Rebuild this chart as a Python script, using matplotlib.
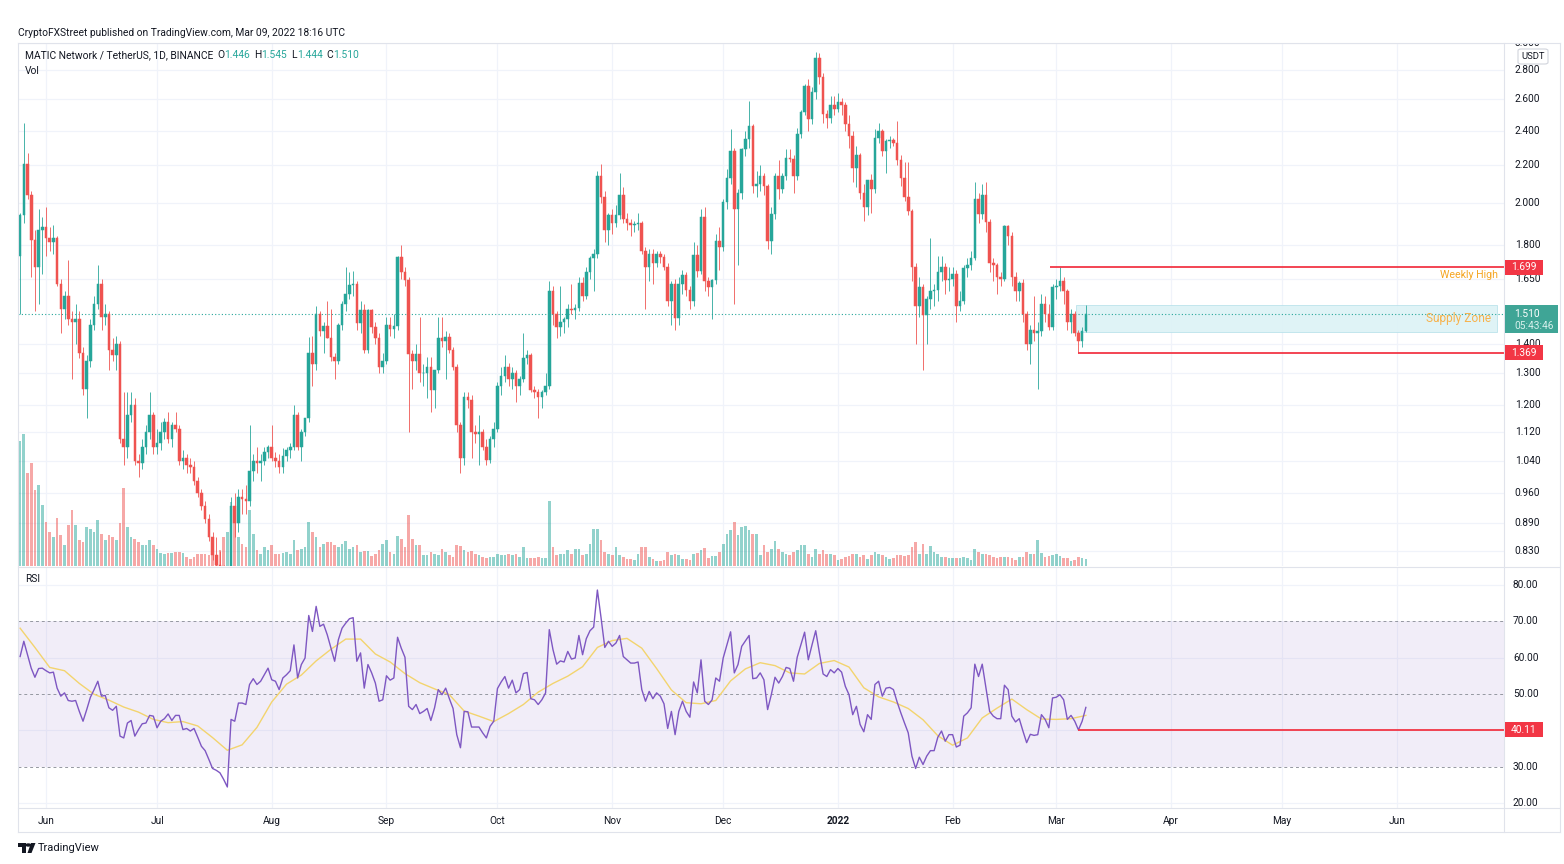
import numpy as np
import pandas as pd
import matplotlib
matplotlib.use("Agg")
import matplotlib.pyplot as plt
import matplotlib.dates as mdates
import matplotlib.transforms as mtransforms
from matplotlib.patches import Rectangle, FancyBboxPatch, Polygon, Circle
from matplotlib.lines import Line2D

plt.rcParams['font.family'] = ['Roboto', 'DejaVu Sans']

# ------------------------------------------------------------------ data
start_date = "2021-05-25"   # MATIC/USDT daily candles, Binance

opens = [
 1.75,1.94,2.21,2.04,1.82,1.70,1.87,1.88,1.83,1.81,
 1.83,1.63,1.53,1.58,1.49,1.48,1.49,1.37,1.25,1.34,
 1.47,1.55,1.63,1.50,1.51,1.38,1.36,1.40,1.10,1.08,
 1.17,1.20,1.04,1.035,1.08,1.12,1.17,1.08,1.09,1.12,
 1.15,1.10,1.14,1.13,1.04,1.05,1.03,1.025,0.99,0.96,
 0.93,0.90,0.86,0.82,0.80,0.78,0.73,0.75,0.93,0.89,
 0.95,0.945,0.94,1.015,1.04,1.035,1.04,1.065,1.08,1.05,
 1.04,1.025,1.055,1.07,1.08,1.17,1.08,1.12,1.16,1.37,
 1.33,1.51,1.445,1.465,1.42,1.355,1.34,1.47,1.55,1.59,
 1.625,1.63,1.475,1.525,1.38,1.525,1.46,1.42,1.32,1.34,
 1.47,1.455,1.465,1.745,1.68,1.645,1.365,1.34,1.365,1.30,
 1.30,1.32,1.245,1.31,1.42,1.41,1.425,1.38,1.32,1.14,
 1.05,1.225,1.215,1.12,1.115,1.12,1.08,1.045,1.10,1.13,
 1.26,1.29,1.32,1.28,1.30,1.26,1.28,1.35,1.36,1.245,
 1.24,1.225,1.24,1.26,1.60,1.51,1.46,1.48,1.49,1.53,
 1.525,1.535,1.635,1.58,1.68,1.74,1.76,2.14,2.03,1.87,
 1.94,1.90,1.94,2.04,1.92,1.90,1.89,1.895,1.90,1.77,
 1.70,1.76,1.72,1.76,1.745,1.70,1.56,1.63,1.495,1.63,
 1.665,1.605,1.56,1.755,1.685,1.93,1.64,1.615,1.645,1.815,
 1.79,2.005,2.13,2.28,1.97,2.05,2.29,2.35,2.43,2.09,
 2.10,2.14,2.09,1.815,1.945,2.14,2.07,2.14,2.24,2.235,
 2.14,2.38,2.52,2.69,2.475,2.65,2.885,2.75,2.505,2.48,
 2.565,2.54,2.58,2.56,2.44,2.37,2.185,2.26,2.05,1.98,
 2.12,2.07,2.36,2.40,2.28,2.34,2.345,2.33,2.23,2.13,
 2.03,1.96,1.70,1.54,1.615,1.505,1.57,1.60,1.605,1.68,
 1.70,1.645,1.65,1.67,1.54,1.56,1.695,1.71,1.74,2.02,
 1.945,2.04,1.905,1.72,1.71,1.66,1.65,1.885,1.84,1.66,
 1.60,1.635,1.51,1.40,1.45,1.44,1.445,1.55,1.51,1.46,
 1.615,1.62,1.64,1.60,1.48,1.51,1.44,1.41,1.446]

highs = [
 1.95,2.45,2.27,2.06,1.87,1.97,1.93,1.98,1.88,1.89,
 1.84,1.65,1.60,1.73,1.52,1.55,1.52,1.39,1.36,1.49,
 1.58,1.71,1.65,1.55,1.52,1.42,1.43,1.41,1.24,1.24,
 1.24,1.22,1.06,1.10,1.14,1.24,1.18,1.13,1.15,1.16,
 1.18,1.15,1.18,1.14,1.07,1.06,1.05,1.04,1.00,0.97,
 0.94,0.91,0.87,0.86,0.83,0.80,0.77,0.95,0.96,0.97,
 0.97,0.98,1.14,1.06,1.08,1.06,1.08,1.085,1.14,1.065,
 1.06,1.075,1.08,1.09,1.20,1.18,1.13,1.16,1.425,1.43,
 1.54,1.52,1.48,1.56,1.53,1.37,1.475,1.56,1.70,1.68,
 1.685,1.64,1.56,1.55,1.53,1.53,1.48,1.44,1.37,1.50,
 1.50,1.51,1.75,1.80,1.70,1.66,1.38,1.40,1.50,1.33,
 1.355,1.355,1.31,1.50,1.50,1.445,1.44,1.39,1.33,1.15,
 1.24,1.24,1.23,1.14,1.17,1.13,1.10,1.11,1.15,1.27,
 1.32,1.36,1.335,1.32,1.31,1.29,1.44,1.38,1.37,1.26,
 1.25,1.245,1.30,1.64,1.62,1.52,1.62,1.50,1.55,1.63,
 1.55,1.66,1.66,1.70,1.75,1.78,2.17,2.21,2.06,1.95,
 1.97,1.99,2.16,2.08,1.95,1.92,1.91,1.95,1.91,1.79,
 1.78,1.78,1.77,1.77,1.76,1.72,1.64,1.65,1.66,1.69,
 1.68,1.62,1.81,1.80,1.97,1.98,1.66,1.65,1.85,1.88,
 2.02,2.18,2.41,2.30,2.07,2.30,2.40,2.59,2.44,2.17,
 2.20,2.16,2.10,1.98,2.16,2.23,2.16,2.29,2.29,2.26,
 2.42,2.53,2.70,2.74,2.68,2.93,2.92,2.78,2.53,2.62,
 2.62,2.64,2.61,2.58,2.50,2.40,2.31,2.27,2.10,2.12,
 2.15,2.41,2.45,2.41,2.35,2.37,2.36,2.46,2.26,2.22,
 2.22,1.97,1.72,1.66,1.63,1.58,1.83,1.63,1.75,1.75,
 1.72,1.70,1.70,1.69,1.60,1.71,1.74,1.77,2.11,2.05,
 2.10,2.11,1.92,1.74,1.72,1.68,1.89,1.89,1.86,1.68,
 1.64,1.65,1.52,1.47,1.58,1.48,1.59,1.58,1.55,1.63,
 1.65,1.699,1.66,1.61,1.53,1.52,1.45,1.46,1.545]

lows = [
 1.51,1.90,2.02,1.66,1.52,1.55,1.67,1.75,1.77,1.76,
 1.62,1.44,1.49,1.47,1.28,1.40,1.35,1.23,1.16,1.32,
 1.45,1.53,1.45,1.47,1.31,1.34,1.31,1.09,1.03,1.05,
 1.15,1.03,1.00,1.02,1.06,1.10,1.06,1.06,1.07,1.10,
 1.09,1.08,1.12,1.03,1.02,1.01,1.01,0.98,0.95,0.92,
 0.89,0.85,0.81,0.78,0.76,0.71,0.67,0.74,0.86,0.87,
 0.91,0.91,0.93,0.99,1.01,0.99,1.03,1.05,1.04,1.025,
 1.01,1.01,1.04,1.05,1.07,1.07,1.04,1.11,1.15,1.26,
 1.31,1.43,1.37,1.42,1.34,1.28,1.33,1.45,1.52,1.57,
 1.58,1.45,1.44,1.37,1.37,1.44,1.40,1.30,1.30,1.33,
 1.43,1.42,1.45,1.65,1.62,1.12,1.25,1.31,1.27,1.26,
 1.22,1.18,1.19,1.30,1.39,1.28,1.37,1.31,1.12,1.01,
 1.03,1.19,1.05,1.09,1.03,1.07,1.03,1.035,1.08,1.12,
 1.23,1.27,1.26,1.25,1.21,1.23,1.27,1.33,1.24,1.22,
 1.16,1.19,1.23,1.25,1.47,1.42,1.43,1.44,1.46,1.51,
 1.49,1.52,1.56,1.57,1.65,1.60,1.74,2.00,1.81,1.80,
 1.85,1.88,1.92,1.90,1.87,1.84,1.86,1.87,1.76,1.53,
 1.64,1.63,1.70,1.72,1.69,1.54,1.47,1.45,1.47,1.59,
 1.58,1.53,1.54,1.66,1.67,1.60,1.58,1.49,1.63,1.69,
 1.77,1.97,2.10,1.55,1.71,2.02,2.25,2.30,2.05,2.03,
 2.06,2.04,1.78,1.76,1.92,2.02,2.05,2.12,2.22,2.05,
 2.12,2.36,2.50,2.40,2.44,2.60,2.70,2.45,2.42,2.45,
 2.50,2.52,2.50,2.40,2.30,2.11,2.08,2.02,1.91,1.94,
 1.95,2.05,2.33,2.25,2.16,2.30,2.31,2.20,2.09,2.01,
 1.94,1.64,1.40,1.50,1.31,1.40,1.53,1.54,1.56,1.64,
 1.59,1.60,1.62,1.48,1.52,1.55,1.66,1.69,1.73,1.90,
 1.92,1.86,1.68,1.64,1.59,1.62,1.64,1.80,1.62,1.56,
 1.56,1.48,1.38,1.33,1.41,1.25,1.43,1.48,1.45,1.45,
 1.57,1.60,1.55,1.45,1.44,1.43,1.369,1.39,1.444]

closes = [
 1.94,2.21,2.04,1.82,1.70,1.87,1.88,1.83,1.81,1.83,
 1.63,1.53,1.58,1.49,1.48,1.49,1.37,1.25,1.34,1.47,
 1.55,1.63,1.50,1.51,1.38,1.36,1.40,1.10,1.08,1.17,
 1.20,1.04,1.035,1.08,1.12,1.17,1.08,1.09,1.12,1.15,
 1.10,1.14,1.13,1.04,1.05,1.03,1.025,0.99,0.96,0.93,
 0.90,0.86,0.82,0.80,0.78,0.73,0.75,0.93,0.89,0.95,
 0.945,0.94,1.015,1.04,1.035,1.04,1.065,1.08,1.05,1.04,
 1.025,1.055,1.07,1.08,1.17,1.08,1.12,1.16,1.37,1.33,
 1.51,1.445,1.465,1.42,1.355,1.34,1.47,1.55,1.59,1.625,
 1.63,1.475,1.525,1.38,1.525,1.46,1.42,1.32,1.34,1.47,
 1.455,1.465,1.745,1.68,1.645,1.365,1.34,1.365,1.30,1.30,
 1.32,1.245,1.31,1.42,1.41,1.425,1.38,1.32,1.14,1.05,
 1.225,1.215,1.12,1.115,1.12,1.08,1.045,1.10,1.13,1.26,
 1.29,1.32,1.28,1.30,1.26,1.28,1.35,1.36,1.245,1.24,
 1.225,1.24,1.26,1.60,1.51,1.46,1.48,1.49,1.53,1.525,
 1.535,1.635,1.58,1.68,1.74,1.76,2.14,2.03,1.87,1.94,
 1.90,1.94,2.04,1.92,1.90,1.89,1.895,1.90,1.77,1.70,
 1.76,1.72,1.76,1.745,1.70,1.56,1.63,1.495,1.63,1.665,
 1.605,1.56,1.755,1.685,1.93,1.64,1.615,1.645,1.815,1.79,
 2.005,2.13,2.28,1.97,2.05,2.29,2.35,2.43,2.09,2.10,
 2.14,2.09,1.815,1.945,2.14,2.07,2.14,2.24,2.235,2.14,
 2.38,2.52,2.69,2.475,2.65,2.885,2.75,2.505,2.48,2.565,
 2.54,2.58,2.56,2.44,2.37,2.185,2.26,2.05,1.98,2.12,
 2.07,2.36,2.40,2.28,2.34,2.345,2.33,2.23,2.13,2.03,
 1.96,1.70,1.54,1.615,1.505,1.57,1.60,1.605,1.68,1.70,
 1.645,1.65,1.67,1.54,1.56,1.695,1.71,1.74,2.02,1.945,
 2.04,1.905,1.72,1.71,1.66,1.65,1.885,1.84,1.66,1.60,
 1.635,1.51,1.40,1.45,1.44,1.445,1.55,1.51,1.46,1.615,
 1.62,1.64,1.60,1.48,1.51,1.44,1.41,1.446,1.510]

volumes = [  # millions
 624,658,464,514,379,405,303,219,169,143,
 236,152,101,202,278,202,126,118,194,185,
 169,228,160,126,152,143,126,211,388,194,
 143,135,118,101,101,126,101,84,62,59,
 64,62,67,67,62,42,34,42,56,56,
 59,51,59,51,76,143,169,320,211,143,
 110,93,278,160,76,59,93,76,101,59,
 56,62,67,59,126,79,84,93,219,169,
 143,93,110,118,118,101,93,110,123,84,
 93,101,67,72,72,46,59,76,110,126,
 67,59,147,135,93,253,135,101,101,51,
 51,67,59,51,84,67,51,42,101,98,
 79,67,71,56,51,42,39,42,42,59,
 51,51,56,51,56,42,93,39,39,39,
 42,37,37,325,93,51,59,59,76,59,
 84,84,51,59,106,185,185,126,67,59,
 51,93,51,42,34,34,30,56,93,93,
 42,34,25,25,29,67,51,56,51,34,
 34,29,56,62,76,89,39,46,46,67,
 110,157,180,219,152,191,199,180,157,160,
 51,101,67,84,123,84,67,59,51,67,
 76,101,105,59,42,84,59,76,59,56,
 51,29,34,42,46,59,59,42,51,34,
 51,67,59,51,42,34,39,51,51,46,
 51,93,118,59,106,59,96,67,56,42,
 42,37,37,37,37,42,39,30,84,67,
 56,59,51,42,37,42,42,42,39,30,
 42,42,67,56,56,126,62,42,46,51,
 56,46,37,39,25,29,42,37,34]

rsi = [
 60.3,64.5,60.8,57.1,54.6,57.0,57.1,56.4,55.8,56.0,
 51.6,49.4,50.3,48.2,48.0,48.2,45.2,42.5,45.7,49.1,
 51.2,53.5,49.4,49.6,46.2,45.5,46.6,38.4,37.9,42.0,
 42.7,38.4,40.2,41.8,42.0,44.1,43.9,40.7,42.5,43.2,
 44.5,42.7,44.1,44.1,40.2,40.5,39.8,40.5,38.1,35.6,
 34.4,32.0,29.5,29.0,28.3,26.5,24.4,43.0,42.5,47.5,
 47.5,47.1,52.6,54.2,52.6,53.5,55.3,57.1,53.9,53.5,
 51.2,54.4,55.3,56.4,63.5,54.4,58.1,59.9,71.6,67.2,
 74.1,68.6,69.2,66.3,62.6,59.0,64.9,68.1,69.5,70.7,
 71.0,59.0,61.3,51.6,58.1,55.8,53.0,48.0,48.4,55.0,
 53.8,54.4,65.6,62.6,60.1,46.6,45.7,47.1,44.6,45.2,
 46.0,42.7,46.2,51.2,49.8,51.6,48.7,46.0,38.8,35.2,
 45.2,45.1,40.9,40.9,40.9,39.3,37.9,41.1,42.5,51.5,
 53.3,54.8,51.6,53.8,50.3,51.2,55.6,55.9,48.7,48.4,
 47.1,48.4,50.3,67.7,62.2,58.2,59.1,58.8,61.7,59.6,
 59.9,66.1,60.8,65.2,67.4,68.4,78.6,70.9,62.8,64.5,
 63.1,64.0,66.1,60.3,59.4,58.5,58.5,58.8,51.2,48.0,
 50.7,48.7,50.3,49.4,47.3,40.5,45.2,38.8,45.2,48.0,
 45.2,43.6,53.3,50.3,59.4,48.0,47.1,48.4,54.4,53.5,
 59.9,63.5,67.1,55.8,58.1,63.1,64.6,66.1,54.2,54.4,
 55.8,53.9,45.7,49.8,54.6,53.0,54.8,57.3,57.0,53.5,
 60.1,63.5,67.0,59.4,63.5,67.4,61.3,55.5,54.8,56.7,
 55.8,57.0,56.0,52.1,49.8,44.3,46.6,41.6,39.6,44.3,
 43.0,52.6,53.5,49.4,51.6,51.8,51.2,47.8,44.8,42.0,
 39.3,32.9,29.5,32.6,30.6,32.9,34.4,34.4,38.1,39.8,
 37.0,38.8,38.8,35.4,35.9,43.9,44.8,46.2,58.2,54.8,
 58.2,51.6,45.2,43.9,43.2,43.2,52.4,51.2,43.9,42.3,
 43.2,39.8,36.6,38.9,38.6,38.8,44.3,43.0,40.7,48.9,
 49.1,49.8,48.4,43.0,44.1,42.5,40.11,42.5,46.3]

rsi_ma_step = 4   # RSI-based MA, read every 4th day
rsi_ma = [
 68.1,62.8,57.3,56.4,52.9,49.9,48.3,46.4,45.0,43.0,
 42.1,42.4,41.2,38.0,34.5,36.0,40.8,47.8,52.7,55.2,
 59.1,62.3,65.1,65.1,61.0,58.8,55.6,53.1,51.4,49.8,
 45.3,43.9,42.4,44.6,47.1,50.5,52.9,54.9,57.5,62.8,
 64.7,65.3,62.6,57.0,51.1,47.6,47.3,48.2,53.6,56.9,
 58.6,57.8,55.8,55.5,58.4,59.2,57.4,51.7,49.2,47.8,
 46.0,42.9,38.5,35.9,37.9,43.4,46.1,48.6,45.7,43.1,
 43.0,43.2,44.1]

price_ticks = [3.0, 2.8, 2.6, 2.4, 2.2, 2.0, 1.8, 1.65, 1.4, 1.3, 1.2,
               1.12, 1.04, 0.96, 0.89, 0.83]
rsi_ticks = [80, 70, 60, 50, 40, 30, 20]
month_labels = ["Jun", "Jul", "Aug", "Sep", "Oct", "Nov", "Dec", "2022",
                "Feb", "Mar", "Apr", "May", "Jun"]
month_starts = pd.date_range("2021-06-01", "2022-06-01", freq="MS")

weekly_high = 1.699
weekly_high_from = "2022-02-28"
support_low = 1.369
supply_zone = (1.444, 1.545)
zone_from = "2022-03-06"
level_from = "2022-03-07"
rsi_level = 40.11
countdown = "05:43:46"

# ------------------------------------------------------------------ figure
W, H = 1564, 864
fig = plt.figure(figsize=(W / 100, H / 100), dpi=100)
fig.patch.set_facecolor("white")


def fx(px):
    return px / W


def fy(py):
    return 1 - py / H


UP, DOWN = "#26a69a", "#ef5350"
RED = "#f23645"
TEXT = "#131722"
GRID = "#f0f3fa"
BORDER = "#e0e3eb"
ORANGE = "#f5a623"
FS = 7.3

LEFT, RPANE, REDGE = 18, 1504, 1560
TOP, PBOT, RTOP, RBOT, ABOT = 43, 565.5, 567.5, 808, 832

dates = pd.date_range(start_date, periods=len(closes), freq="D")
xs = mdates.date2num(dates)
o, hi, lo, c = map(np.array, (opens, highs, lows, closes))
vol = np.array(volumes)
up = c >= o
cols = np.where(up, UP, DOWN)

x_left = xs[0] - 0.57
x_right = xs[0] + 401.0

# ---------------- price pane
ax = fig.add_axes([fx(LEFT), fy(PBOT), fx(RPANE - LEFT), (PBOT - TOP) / H])
ax.set_yscale("log")
ax.set_axis_off()
ax.set_xlim(x_left, x_right)
ax.set_ylim(0.7992, 2.998)

for p in price_ticks:
    ax.axhline(p, color=GRID, lw=0.9, zorder=0)
for m in month_starts:
    ax.axvline(mdates.date2num(m), color=GRID, lw=0.9, zorder=0)

# volume (overlay, bottom of the price pane)
VOL_AXIS_MAX = 2620.0
vtrans = mtransforms.blended_transform_factory(ax.transData, ax.transAxes)
bw = 0.72
for x, v, u in zip(xs, vol, up):
    ax.add_patch(Rectangle((x - bw / 2, 0), bw, v / VOL_AXIS_MAX, transform=vtrans,
                           facecolor=UP if u else DOWN, alpha=0.5,
                           edgecolor="none", zorder=1))

# candles
ax.vlines(xs, lo, hi, colors=cols, linewidth=0.7, alpha=0.85, zorder=2)
ax.bar(xs, np.abs(c - o), bottom=np.minimum(o, c), width=0.7, color=cols,
       edgecolor=cols, linewidth=0.35, zorder=3)

# last price dotted line
ax.axhline(closes[-1], color=UP, lw=0.8, ls=(0, (1, 2)), zorder=1.5)

# supply zone
zx0 = mdates.date2num(pd.Timestamp(zone_from)) + 0.3
ax.add_patch(Rectangle((zx0, supply_zone[0]), xs[0] + 399.2 - zx0,
                       supply_zone[1] - supply_zone[0], facecolor="#dcf2f6",
                       edgecolor="#b5e0ea", lw=0.6, alpha=0.9, zorder=1.2))
ax.text(xs[0] + 397.5, np.sqrt(supply_zone[0] * supply_zone[1]), "Supply Zone",
        color="#f7b24c", fontsize=8.6, ha="right", va="center", zorder=5)

# weekly high and support lines
wx0 = mdates.date2num(pd.Timestamp(weekly_high_from)) - 0.6
ax.hlines(weekly_high, wx0, x_right, color=RED, lw=1.3, zorder=4)
ax.annotate("Weekly High", xy=(xs[0] + 399.4, weekly_high), xytext=(0, -5.8),
            textcoords="offset points", color=ORANGE, fontsize=7.7,
            ha="right", va="center", zorder=5)
lx0 = mdates.date2num(pd.Timestamp(level_from)) - 0.2
ax.hlines(support_low, lx0, x_right, color=RED, lw=1.3, zorder=4)

# ---------------- RSI pane
ar = fig.add_axes([fx(LEFT), fy(RBOT), fx(RPANE - LEFT), (RBOT - RTOP) / H])
ar.set_axis_off()
ar.set_xlim(x_left, x_right)
ar.set_ylim(18.62, 84.8)
for g in (80, 60, 40, 20):
    ar.axhline(g, color=GRID, lw=0.9, zorder=0)
for m in month_starts:
    ar.axvline(mdates.date2num(m), color=GRID, lw=0.9, zorder=0)
ar.axhspan(30, 70, color="#7e57c2", alpha=0.10, lw=0, zorder=0.5)
for g in (70, 50, 30):
    ar.axhline(g, color="#9598a1", lw=0.7, ls=(0, (3, 3)), zorder=1)
ar.plot(xs[::rsi_ma_step], rsi_ma, color="#f3d46e", lw=1.0, zorder=2)
ar.plot(xs, rsi, color="#7e57c2", lw=1.0, zorder=3)
ar.hlines(rsi_level, lx0, x_right, color=RED, lw=1.3, zorder=4)

# ---------------- frame
def hline(y, x0=LEFT, x1=REDGE):
    fig.add_artist(Line2D([fx(x0), fx(x1)], [fy(y), fy(y)], color=BORDER, lw=0.8))


def vline(x, y0=TOP, y1=ABOT):
    fig.add_artist(Line2D([fx(x), fx(x)], [fy(y0), fy(y1)], color=BORDER, lw=0.8))


hline(TOP)
hline(566.5)
hline(RBOT)
hline(ABOT)
vline(LEFT)
vline(RPANE)
vline(REDGE)

# ---------------- right scale labels
lab = fig.add_axes([fx(RPANE), fy(PBOT), fx(REDGE - RPANE), (PBOT - TOP) / H])
lab.set_axis_off()
lab.set_yscale("log")
lab.set_ylim(ax.get_ylim())
lab.set_xlim(0, 1)
for p in price_ticks:
    lab.text(0.19, p, f"{p:.3f}", fontsize=FS, color=TEXT, ha="left",
             va="center", clip_on=True)

labr = fig.add_axes([fx(RPANE), fy(RBOT), fx(REDGE - RPANE), (RBOT - RTOP) / H])
labr.set_axis_off()
labr.set_ylim(ar.get_ylim())
labr.set_xlim(0, 1)
for t in rsi_ticks:
    labr.text(0.16, t, f"{t:.2f}", fontsize=FS, color=TEXT, ha="left",
              va="center", clip_on=True)


def fig_y(axis, value):
    disp = axis.transData.transform((xs[0], value))
    return fig.transFigure.inverted().transform(disp)[1]


def tag(axis, value, text, color, x1=1543, half=7.5, txtcolor="white"):
    yc = fig_y(axis, value)
    fig.add_artist(Rectangle((fx(RPANE + 0.5), yc - half / H), fx(x1 - RPANE - 0.5),
                             2 * half / H, transform=fig.transFigure,
                             facecolor=color, edgecolor="none", zorder=10))
    fig.text(fx((RPANE + x1) / 2), yc, text, color=txtcolor, fontsize=FS,
             ha="center", va="center", zorder=11)


tag(ax, weekly_high, f"{weekly_high:.3f}", RED)
tag(ax, support_low, f"{support_low:.3f}", RED)
tag(ar, rsi_level, f"{rsi_level:.2f}", RED)

# last price tag with countdown
yc = fig_y(ax, closes[-1])
fig.add_artist(Rectangle((fx(RPANE + 0.5), yc - 18.5 / H), fx(REDGE - 3 - RPANE),
                         27.5 / H, transform=fig.transFigure,
                         facecolor="#3fa596", edgecolor="none", zorder=10))
fig.text(fx(1514), yc, f"{closes[-1]:.3f}", color="white", fontsize=FS,
         ha="left", va="center", zorder=11)
fig.text(fx(1514), yc - 12 / H, countdown, color="#d7f0ec", fontsize=FS,
         ha="left", va="center", zorder=11)

# currency box
fig.add_artist(FancyBboxPatch((fx(1518), fy(64)), fx(30), 15 / H,
                              boxstyle="round,pad=0,rounding_size=0.002",
                              transform=fig.transFigure, facecolor="white",
                              edgecolor="#d1d4dc", lw=0.8, zorder=10))
fig.text(fx(1533), fy(56.5), "USDT", color=TEXT, fontsize=6.8, ha="center",
         va="center", zorder=11)

# ---------------- time axis labels
ttrans = mtransforms.blended_transform_factory(ar.transData, fig.transFigure)
for m, lbl in zip(month_starts, month_labels):
    ar.text(mdates.date2num(m), fy(821), lbl, transform=ttrans, fontsize=FS,
            color=TEXT, ha="center", va="center", clip_on=False,
            fontweight="bold" if lbl.isdigit() else "normal")

# ---------------- header / legends
fig.text(fx(18), fy(33), "CryptoFXStreet published on TradingView.com, Mar 09, 2022 18:16 UTC",
         fontsize=7.4, color=TEXT, ha="left", va="center")

renderer = fig.canvas.get_renderer()
pieces = [("MATIC Network / TetherUS, 1D, BINANCE", TEXT, 4),
          ("O", TEXT, 0), (f"{opens[-1]:.3f}", UP, 4),
          ("H", TEXT, 0), (f"{highs[-1]:.3f}", UP, 4),
          ("L", TEXT, 0), (f"{lows[-1]:.3f}", UP, 4),
          ("C", TEXT, 0), (f"{closes[-1]:.3f}", UP, 0)]
xcur = 25.0
for txt, col, gap in pieces:
    t = fig.text(fx(xcur), fy(55.5), txt, fontsize=7.4, color=col, ha="left", va="center")
    bb = t.get_window_extent(renderer=renderer)
    xcur += bb.width + gap

fig.text(fx(25), fy(70.5), "Vol", fontsize=7.4, color=TEXT, ha="left", va="center")
fig.text(fx(25), fy(578.5), "RSI", fontsize=7.4, color=TEXT, ha="left", va="center")

# ---------------- TradingView logo
fig.add_artist(Polygon([[fx(18), fy(843)], [fx(25.5), fy(843)], [fx(25.5), fy(853)],
                        [fx(22), fy(853)], [fx(22), fy(846.5)], [fx(18), fy(846.5)]],
                       closed=True, transform=fig.transFigure, facecolor=TEXT,
                       edgecolor="none"))
fig.add_artist(Circle((fx(28.3), fy(845)), 1.7 / H, transform=fig.transFigure,
                      facecolor=TEXT, edgecolor="none"))
fig.add_artist(Polygon([[fx(31), fy(843)], [fx(35.5), fy(843)], [fx(31.5), fy(853)],
                        [fx(27.5), fy(853)]], closed=True, transform=fig.transFigure,
                       facecolor=TEXT, edgecolor="none"))
fig.text(fx(38), fy(848), "TradingView", fontsize=8, color=TEXT, ha="left",
         va="center")

fig.savefig("out.png", dpi=100, facecolor="white")
